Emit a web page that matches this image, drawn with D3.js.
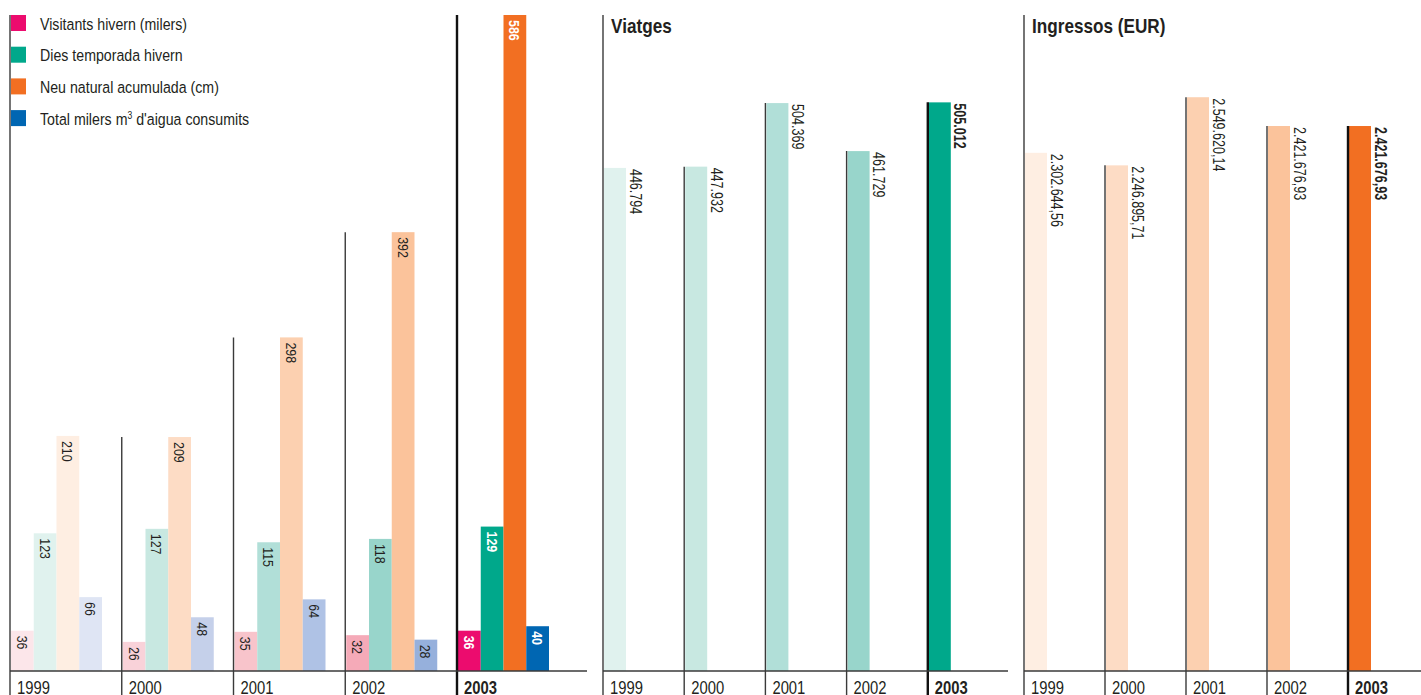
<!DOCTYPE html>
<html>
<head>
<meta charset="utf-8">
<script src="https://cdn.jsdelivr.net/npm/d3@7"></script>
<style>
  html, body { margin: 0; padding: 0; background: #fff; }
  svg { display: block; font-family: "Liberation Sans", Arial, Helvetica, sans-serif; }
</style>
</head>
<body>
<svg id="chart" width="1421" height="695"></svg>
<script>
// ---- data ----
const years = ["1999", "2000", "2001", "2002", "2003"];
const seriesNames = ["Visitants hivern (milers)", "Dies temporada hivern", "Neu natural acumulada (cm)", "Total milers m3 d'aigua consumits"];
const visitants = [36, 26, 35, 32, 36];
const diesTemporada = [123, 127, 115, 118, 129];
const neuAcumulada = [210, 209, 298, 392, 586];
const aiguaConsumida = [66, 48, 64, 28, 40];
const viatges = [446794, 447932, 504369, 461729, 505012];
const ingressos = [2302644.56, 2246895.71, 2549620.14, 2421676.93, 2421676.93];

// ---- styles ----
const ramps = [
  ["#fce6ea", "#f9d2d9", "#f8c4cb", "#f5aab8", "#ec0c6e"], // pink
  ["#e0f2ee", "#c8e8e1", "#b1dfd8", "#98d5cb", "#00a88b"], // teal
  ["#feeee2", "#fddcc5", "#fcd0b0", "#fbc39b", "#f26f22"], // orange
  ["#dfe5f4", "#c5d0ea", "#afc2e5", "#96b0dc", "#0066b2"]  // blue
];
const lineColor = "#3a3a3a";
const strongLine = "#111";
const textColor = "#231f20";
const lastYear = years[years.length - 1];

const ca = d3.formatLocale({ decimal: ",", thousands: ".", grouping: [3], currency: ["", " €"] });
const fmtInt = ca.format(",d");
const fmtEur = ca.format(",.2f");

const svg = d3.select("#chart");
const W = 1421, H = 695;
const baseY = 671, topY = 15;

// condensed look: horizontal squeeze applied along the reading direction
const squeeze = s => `scale(${s},1)`;

function vline(g, x, y0, y1, strong) {
  g.append("line")
    .attr("x1", x).attr("x2", x).attr("y1", y0).attr("y2", y1)
    .attr("stroke", strong ? strongLine : lineColor)
    .attr("stroke-width", strong ? 2.4 : 1.4);
}
function hline(g, x0, x1, y) {
  g.append("line")
    .attr("x1", x0).attr("x2", x1).attr("y1", y).attr("y2", y)
    .attr("stroke", lineColor).attr("stroke-width", 1.5);
}
function yearLabels(g, x) {
  g.selectAll("text.year").data(years).join("text")
    .attr("class", "year")
    .attr("transform", d => `translate(${x(d) + 7},694) ${squeeze(0.8)}`)
    .attr("font-size", 18.5)
    .attr("font-weight", d => d === lastYear ? "bold" : "normal")
    .attr("fill", textColor)
    .text(d => d);
}

// ---- panel 1: grouped bars ----
{
  const g = svg.append("g");
  const series = [visitants, diesTemporada, neuAcumulada, aiguaConsumida];
  const x = d3.scaleBand().domain(years).range([10, 10 + 5 * 111.75]);
  const inner = d3.scaleBand().domain(d3.range(series.length)).range([1, 92]);
  const y = d3.scaleLinear().domain([0, 586]).range([baseY, topY]);

  const cells = [];
  years.forEach((yr, i) => series.forEach((s, k) => cells.push({ yr, i, k, v: s[i] })));

  g.selectAll("rect.bar").data(cells).join("rect")
    .attr("class", "bar")
    .attr("x", d => x(d.yr) + inner(d.k))
    .attr("width", inner.bandwidth())
    .attr("y", d => y(d.v))
    .attr("height", d => y(0) - y(d.v))
    .attr("fill", d => ramps[d.k][d.i]);

  g.selectAll("text.val").data(cells).join("text")
    .attr("class", "val")
    .attr("transform", d => `translate(${x(d.yr) + inner(d.k) + inner.bandwidth() / 2},${y(d.v) + 5}) rotate(90) ${squeeze(0.8)}`)
    .attr("dy", "0.36em")
    .attr("font-size", 15.5)
    .attr("font-weight", d => d.yr === lastYear ? "bold" : "normal")
    .attr("fill", d => d.yr === lastYear ? "#fff" : textColor)
    .text(d => d.v);

  // group separators, from the tallest bar of each year down past the baseline
  years.forEach((yr, i) => {
    const top = i === 0 ? topY : y(d3.max(series, s => s[i]));
    vline(g, x(yr), top, H, yr === lastYear);
  });
  hline(g, 10, 587, baseY);
  yearLabels(g, x);

  // legend
  const leg = g.append("g");
  seriesNames.forEach((name, k) => {
    const yy = topY + k * 31.7;
    leg.append("rect").attr("x", 11).attr("y", yy).attr("width", 15).attr("height", 16)
      .attr("fill", ramps[k][4]);
    const t = leg.append("text")
      .attr("transform", `translate(40,${yy + 14.5}) ${squeeze(0.86)}`)
      .attr("font-size", 16.5).attr("fill", textColor);
    if (name.includes("m3")) {
      const [a, b] = name.split("m3");
      t.append("tspan").text(a + "m");
      t.append("tspan").attr("font-size", 10).attr("dy", -6).text("3");
      t.append("tspan").attr("dy", 6).text(b);
    } else {
      t.text(name);
    }
  });
}

// ---- panels 2 and 3: single series ----
function singlePanel(opts) {
  const g = svg.append("g");
  const x = d3.scaleBand().domain(years).range([opts.x0, opts.x0 + 5 * opts.step]);
  const y = d3.scaleLinear().domain([0, opts.max]).range([baseY, topY]);
  const barW = 22;
  const data = years.map((yr, i) => ({ yr, i, v: opts.values[i] }));

  g.selectAll("rect.bar").data(data).join("rect")
    .attr("class", "bar")
    .attr("x", d => x(d.yr) + 1)
    .attr("width", barW)
    .attr("y", d => y(d.v))
    .attr("height", d => y(0) - y(d.v))
    .attr("fill", d => opts.colors[d.i]);

  g.selectAll("text.val").data(data).join("text")
    .attr("class", "val")
    .attr("transform", d => `translate(${x(d.yr) + 1 + barW + 3.5},${y(d.v) + 1}) rotate(90) ${squeeze(0.76)}`)
    .attr("font-size", 16.5)
    .attr("font-weight", d => d.yr === lastYear ? "bold" : "normal")
    .attr("fill", textColor)
    .text(d => opts.fmt(d.v));

  data.forEach(d => vline(g, x(d.yr), d.i === 0 ? topY : y(d.v), H, d.yr === lastYear));
  hline(g, opts.x0, opts.xEnd, baseY);
  yearLabels(g, x);

  g.append("text")
    .attr("transform", `translate(${opts.x0 + 8},33) ${squeeze(0.88)}`)
    .attr("font-size", 19.5).attr("font-weight", "bold").attr("fill", textColor)
    .text(opts.title);
}

singlePanel({ title: "Viatges", values: viatges, x0: 603, step: 81.2, xEnd: 1008, max: 582600, colors: ramps[1], fmt: fmtInt });
singlePanel({ title: "Ingressos (EUR)", values: ingressos, x0: 1024, step: 81, xEnd: W, max: 2915000, colors: ramps[2], fmt: fmtEur });
</script>
</body>
</html>
